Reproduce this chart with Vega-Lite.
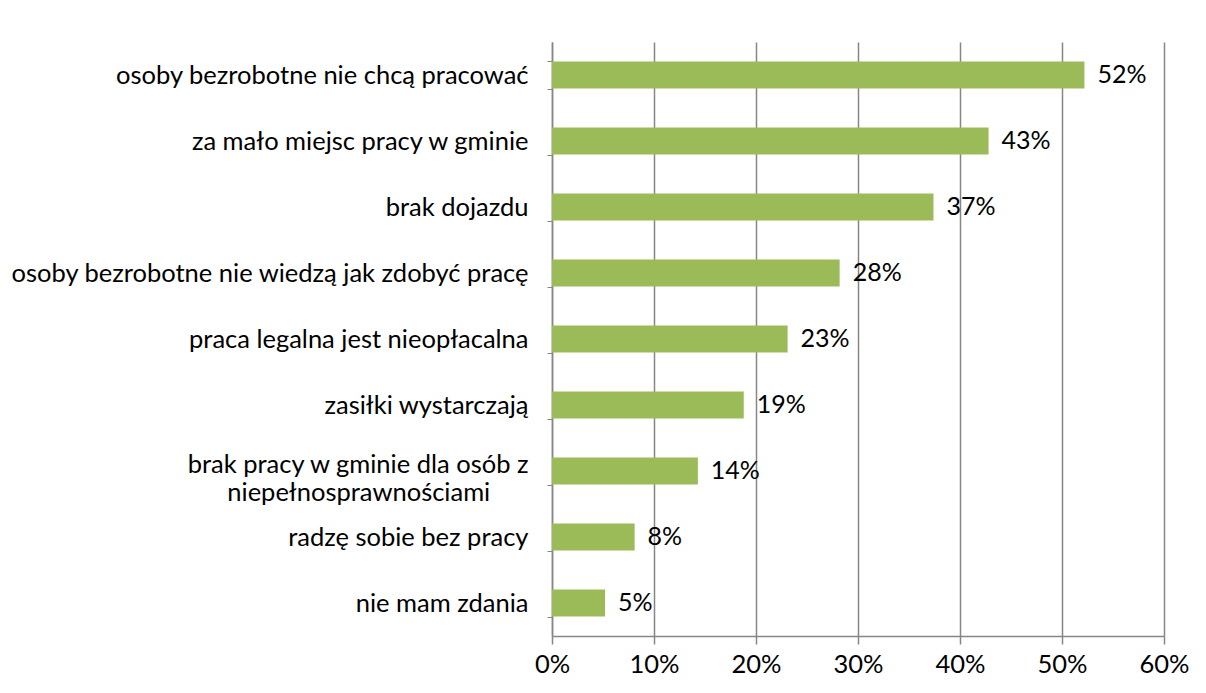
{
  "$schema": "https://vega.github.io/schema/vega-lite/v6.json",
  "autosize": {"type": "none"},
  "padding": {"left": 552, "top": 42, "right": 42, "bottom": 57},
  "width": 612,
  "height": 594,
  "background": "white",
  "config": {
    "view": {"stroke": null},
    "font": "Lato",
    "axis": {"labelFont": "Lato", "labelColor": "#000000", "labelFontSize": 25.5}
  },
  "data": {
    "values": [
      {"kategoria": "osoby bezrobotne nie chcą pracować", "wartosc": 0.522},
      {"kategoria": "za mało miejsc pracy w gminie", "wartosc": 0.428},
      {"kategoria": "brak dojazdu", "wartosc": 0.374},
      {"kategoria": "osoby bezrobotne nie wiedzą jak zdobyć pracę", "wartosc": 0.282},
      {"kategoria": "praca legalna jest nieopłacalna", "wartosc": 0.231},
      {"kategoria": "zasiłki wystarczają", "wartosc": 0.188},
      {"kategoria": "brak pracy w gminie dla osób z niepełnosprawnościami", "wartosc": 0.143},
      {"kategoria": "radzę sobie bez pracy", "wartosc": 0.081},
      {"kategoria": "nie mam zdania", "wartosc": 0.052}
    ]
  },
  "encoding": {
    "y": {
      "field": "kategoria",
      "type": "nominal",
      "sort": null,
      "scale": {"paddingInner": 0.59, "paddingOuter": 0.295},
      "axis": {
        "title": null,
        "tickBand": "extent",
        "ticks": true,
        "tickSize": 5,
        "tickColor": "#868686",
        "domainColor": "#868686",
        "domainWidth": 1.5,
        "labelPadding": 19,
        "labelLimit": 0,
        "labelLineHeight": 28,
        "labelOffset": {"condition": {"test": "datum.value == 'brak pracy w gminie dla osób z niepełnosprawnościami'", "value": -7}, "value": 0},
        "labelExpr": "datum.value == 'brak pracy w gminie dla osób z niepełnosprawnościami' ? ['brak pracy w gminie dla osób z', 'niepełnosprawnościami\u2002\u2002\u2002\u200b'] : datum.value"
      }
    },
    "x": {
      "field": "wartosc",
      "type": "quantitative",
      "scale": {"domain": [0, 0.6], "nice": false},
      "axis": {
        "title": null,
        "format": ".0%",
        "values": [0, 0.1, 0.2, 0.3, 0.4, 0.5, 0.6],
        "grid": true,
        "gridColor": "#868686",
        "gridWidth": 1.5,
        "tickColor": "#868686",
        "tickSize": 8,
        "tickWidth": 1.5,
        "domainColor": "#868686",
        "domainWidth": 1.5,
        "labelFlush": false,
        "labelOverlap": false,
        "labelBound": false,
        "labelPadding": 8
      }
    }
  },
  "layer": [
    {"mark": {"type": "bar", "color": "#9BBB59"}},
    {
      "mark": {"type": "text", "align": "left", "baseline": "middle", "dx": 13, "fontSize": 25, "font": "Lato", "color": "#000000"},
      "encoding": {"text": {"field": "wartosc", "type": "quantitative", "format": ".0%"}}
    }
  ]
}
